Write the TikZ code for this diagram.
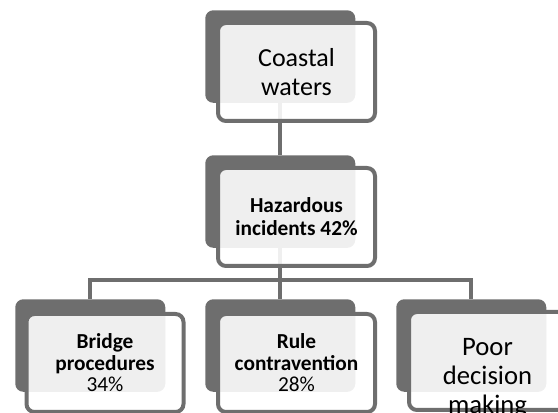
\documentclass[tikz,border=0pt]{standalone}
\usepackage{fontspec}
\setmainfont{Carlito}
\definecolor{shade}{RGB}{110,110,110}
\begin{document}
\begin{tikzpicture}[x=0.75pt,y=-0.75pt,
  backcard/.style={rectangle, fill=shade, rounded corners=6pt, inner sep=0pt,
    minimum width=112.5pt, minimum height=69.4pt, anchor=north west},
  frontcard/.style={rectangle, draw=shade, line width=3pt, fill=white,
    fill opacity=0.89, text opacity=1, rounded corners=6pt, inner sep=0pt,
    minimum width=117.75pt, minimum height=73.5pt, align=center, text=black},
  cardtext/.style={inner sep=0pt, align=center, text=black},
  link/.style={draw=shade, line width=3pt},
  bigtext/.style={font=\fontsize{19.5}{21.75}\selectfont},
  midtext/.style={font=\fontsize{16}{17.25}\selectfont\bfseries},
  smalltext/.style={font=\fontsize{16}{16.1}\selectfont}]
\useasboundingbox (0,0) rectangle (558,413);
\clip (0,0) rectangle (558,413);

% dark back cards
\node[backcard] (c-back)  at (205,10)  {};
\node[backcard] (hz-back) at (205,155) {};
\node[backcard] (bp-back) at (15,299)  {};
\node[backcard] (rc-back) at (205,299) {};
\node[backcard] (pd-back) at (396,299) {};

% tree connectors
\coordinate (bar) at (0,280);
\draw[link] (c-back.south) -- (hz-back.north);
\draw[link] (hz-back.south) -- (hz-back.south |- bar);
\draw[link] (bp-back.north) -- (bp-back.north |- bar) -- (pd-back.north |- bar) -- (pd-back.north);
\draw[link] (rc-back.north) -- (rc-back.north |- bar);

% translucent front cards with their labels
\node[frontcard, bigtext] (c-front) at (296.5,72) {Coastal\\waters};
\node[frontcard, midtext] (hz-front) at (296.5,217) {Hazardous\\incidents 42\%};
\node[frontcard, smalltext] (bp-front) at (105,363) {\textbf{Bridge}\\\textbf{procedures}\\34\%};
\node[frontcard, smalltext] (rc-front) at (296.5,363) {\textbf{Rule}\\\textbf{contravention}\\28\%};
\node[frontcard] (pd-front) at (487.5,361) {};
\node[cardtext, font=\fontsize{20}{21.75}\selectfont] (pd-text) at (487.5,378) {Poor\\decision\\making};
\end{tikzpicture}
\end{document}
